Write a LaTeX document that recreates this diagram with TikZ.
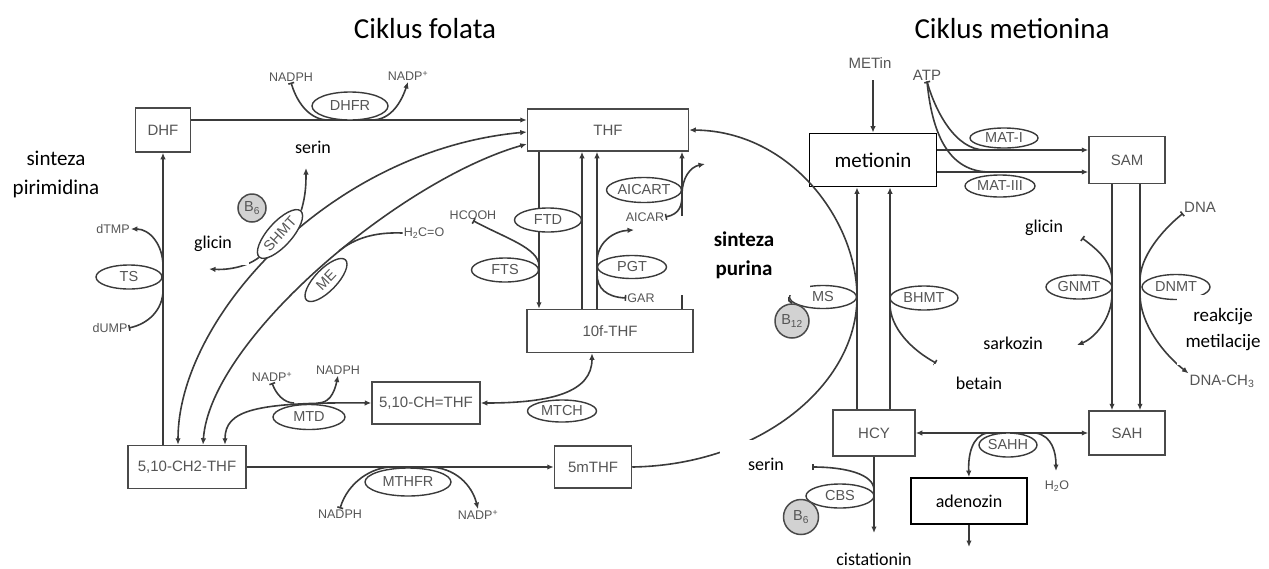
\documentclass[tikz,border=0pt]{standalone}
\usepackage{fontspec}
\setmainfont{Carlito}
\newfontfamily\arialfont{Liberation Sans}
\usepackage{xcolor}
\usepackage{tikz}
\usetikzlibrary{arrows.meta}
\usetikzlibrary{shapes.geometric}
\definecolor{linecol}{HTML}{3A3A3A}
\definecolor{boxcol}{HTML}{4A4A4A}
\definecolor{txtcol}{HTML}{555555}
\definecolor{vitfill}{HTML}{D2D2D2}
\newcommand{\titlefont}{\fontsize{29}{34}\selectfont}
\newcommand{\bigfont}{\fontsize{21}{29}\selectfont}
\newcommand{\bigbf}{\fontsize{21}{29}\selectfont\bfseries}
\newcommand{\lblfont}{\fontsize{18}{21}\selectfont}
\newcommand{\metilfont}{\fontsize{19}{26}\selectfont}
\newcommand{\boxfont}{\arialfont\fontsize{15}{17}\selectfont}
\newcommand{\enzfont}{\arialfont\fontsize{14.5}{16}\selectfont}
\newcommand{\molfont}{\arialfont\fontsize{12.5}{14}\selectfont}
\newcommand{\bigmolfont}{\arialfont\fontsize{15}{17}\selectfont}
\tikzset{>={Latex[length = 6.5pt, width = 5.5pt]}}
\tikzstyle{flow} = [draw = linecol, line width = 1.6pt]
\tikzstyle{sub} = [flow, {Bar[width = 6pt]}-]
\tikzstyle{subprod} = [flow, {Bar[width = 6pt]}->]
\tikzstyle{box} = [rectangle, draw = boxcol, line width = 1.5pt, fill = white, inner sep = 0, font = \boxfont, text = txtcol]
\tikzstyle{bigbox} = [rectangle, draw = black, line width = 1.8pt, fill = white, inner sep = 0, font = \bigfont]
\tikzstyle{enz} = [ellipse, draw = linecol, line width = 1.4pt, fill = white, inner sep = 0, font = \enzfont, text = txtcol]
\tikzstyle{vit} = [circle, draw = boxcol, line width = 1.5pt, fill = vitfill, inner sep = 0, font = \enzfont, text = txtcol]
\tikzstyle{mol} = [inner sep = 1pt, font = \molfont, text = txtcol]
\tikzstyle{lbl} = [inner sep = 0, font = \lblfont]
\tikzstyle{patch} = [fill = white, inner sep = 0, font = \lblfont]

\begin{document}
\begin{tikzpicture}[x = 1pt, y = -1pt]
\useasboundingbox (0, 0) rectangle (1269, 568);
% boxes
\node [box, minimum width = 55pt, minimum height = 44pt] (dhf) at (163, 130) {DHF};
\node [box, minimum width = 161pt, minimum height = 42pt] (thf) at (608, 130) {THF};
\node [box, minimum width = 166pt, minimum height = 43pt] (fthf) at (610, 331) {10f-THF};
\node [box, minimum width = 108pt, minimum height = 42pt] (chthf) at (426, 403) {5,10-CH=THF};
\node [box, minimum width = 118pt, minimum height = 43pt] (chtwo) at (187, 467) {5,10-CH2-THF};
\node [box, minimum width = 77pt, minimum height = 42pt] (mthf) at (593, 467) {5mTHF};
\node [bigbox, minimum width = 127pt, minimum height = 53pt] (met) at (873, 160) {metionin};
\node [box, minimum width = 76pt, minimum height = 47pt] (sam) at (1127, 160) {SAM};
\node [box, minimum width = 82pt, minimum height = 46pt] (hcy) at (874, 433) {HCY};
\node [box, minimum width = 76pt, minimum height = 44pt] (sah) at (1127, 433) {SAH};
\node [bigbox, font = \lblfont, minimum width = 116pt, minimum height = 46pt] (ado) at (969, 501) {adenozin};

% small molecules
\node [mol] (nadpha) at (291, 77) {NADPH};
\node [mol] (nadpa) at (408, 76) {NADP\textsuperscript{+}};
\node [mol] (dtmp) at (113, 229) {dTMP};
\node [mol] (dump) at (110, 328) {dUMP};
\node [mol] (hco) at (424, 233) {H\textsubscript{2}C=O};
\node [mol] (hcooh) at (473, 215) {HCOOH};
\node [mol] (aicar) at (645, 217) {AICAR};
\node [mol] (gar) at (641, 298) {GAR};
\node [mol] (nadpb) at (272, 377) {NADP\textsuperscript{+}};
\node [mol] (nadphb) at (338, 370) {NADPH};
\node [mol] (nadphc) at (340, 514) {NADPH};
\node [mol] (nadpc) at (478, 515) {NADP\textsuperscript{+}};
\node [mol, font = \bigmolfont] (metin) at (870, 63) {METin};
\node [mol, font = \bigmolfont] (atp) at (927, 75) {ATP};
\node [mol, font = \bigmolfont] (dna) at (1200, 207) {DNA};
\node [mol, font = \bigmolfont] (dnach) at (1222, 381) {DNA-CH\textsubscript{3}};
\node [mol] (water) at (1057, 486) {H\textsubscript{2}O};

% points on the lines
\coordinate (dhfrin) at (328, 120);
\coordinate (dhfrout) at (372, 120);
\coordinate (tsout) at (163, 266);
\coordinate (tsin) at (163, 290);
\coordinate (meout) at (339, 251);
\coordinate (ftsin) at (539, 266);
\coordinate (aicartm) at (682, 195);
\coordinate (purout) at (705, 164);
\coordinate (pgtin) at (597, 274);
\coordinate (pgtout) at (597, 262);
\coordinate (fgarend) at (634, 230);
\coordinate (mtdin) at (294, 403);
\coordinate (mtdout) at (318, 403);
\coordinate (mthfrin) at (392, 467);
\coordinate (mthfrout) at (428, 467);
\coordinate (msr) at (857, 297);
\coordinate (metintop) at (873, 80);
\coordinate (matain) at (985, 150);
\coordinate (matbin) at (990, 172);
\coordinate (bhmtin) at (890, 304);
\coordinate (betend) at (936, 363);
\coordinate (glyend) at (1082, 238);
\coordinate (gnmtin) at (1112, 280);
\coordinate (gnmtout) at (1112, 294);
\coordinate (sarend) at (1077, 345);
\coordinate (dnmtin) at (1140, 280);
\coordinate (dnmtout) at (1140, 294);
\coordinate (sahhado) at (987, 433);
\coordinate (sahhw) at (1036, 433);
\coordinate (waterend) at (1056, 471);
\coordinate (adoend) at (969, 547);
\coordinate (cysend) at (874, 533);
\coordinate (serend) at (812, 467);
\coordinate (cbsin) at (874, 490);
\coordinate (serinend) at (306, 168);
\coordinate (glicinend) at (209, 269);

% folate cycle
\draw [flow, ->] (dhf.east |- 0,120) -- (thf.west |- 0,120);
\draw [sub] (nadpha.south) .. controls (298, 106) and (312, 120) .. (dhfrin);
\draw [flow, ->] (dhfrout) .. controls (392, 120) and (402, 100) .. (nadpa.south);
\draw [flow, ->] (dhf.south |- chtwo.north) -- (dhf.south);
\draw [flow, ->] (tsout) .. controls (163, 245) and (150, 229) .. (dtmp.east);
\draw [sub] (dump.east) .. controls (148, 324) and (163, 310) .. (tsin);
\draw [flow, <->] (178,0 |- chtwo.north) .. controls (178, 318) and (330, 150) .. (thf.west |- 0,132);
\draw [flow, <->] (203,0 |- chtwo.north) .. controls (210, 340) and (400, 180) .. (thf.west |- 0,144);
\draw [flow] (meout) .. controls (355, 238) and (375, 232) .. (hco.west);
\draw [flow, ->] (539,0 |- thf.south) -- (539,0 |- fthf.north);
\foreach \x in {582, 597, 682}
  \draw [flow, ->] (\x,0 |- fthf.north) -- (\x,0 |- thf.south);
\draw [sub] (hcooh.south) .. controls (505, 238) and (539, 248) .. (ftsin);
\draw [subprod] (aicar.east) .. controls (680, 214) and (682, 205) .. (aicartm) .. controls (682, 178) and (690, 167) .. (purout);
\draw [sub] (gar.west) .. controls (606, 297) and (597, 288) .. (pgtin);
\draw [flow, ->] (pgtout) .. controls (597, 242) and (614, 231) .. (fgarend);
\draw [flow, <->] (225,0 |- chtwo.north) .. controls (225, 410) and (255, 402) .. (chthf.west);
\draw [sub] (nadpb.south) .. controls (276, 394) and (284, 403) .. (mtdin);
\draw [flow, ->] (mtdout) .. controls (328, 403) and (334, 395) .. (nadphb.south);
\draw [flow, <->] (chthf.east) .. controls (552, 403) and (592, 392) .. (592,0 |- fthf.south);
\draw [flow, ->] (chtwo.east) -- (mthf.west);
\draw [sub] (nadphc.north) .. controls (348, 482) and (372, 467) .. (mthfrin);
\draw [flow, ->] (mthfrout) .. controls (455, 467) and (472, 485) .. (nadpc.north);
\draw [flow, ->] (mthf.east) .. controls (760, 465) and (857, 385) .. (msr) .. controls (857, 220) and (790, 131) .. (thf.east);

% methionine cycle
\draw [flow, ->] (metintop) -- (met.north);
\foreach \y in {150, 172}
  \draw [flow, ->] (met.east |- 0,\y) -- (sam.west |- 0,\y);
\draw [sub] (atp.south) .. controls (935, 110) and (955, 150) .. (matain);
\draw [flow] (atp.south) .. controls (933, 145) and (955, 172) .. (matbin);
\foreach \x in {1112, 1140}
  \draw [flow, ->] (\x,0 |- sam.south) -- (\x,0 |- sah.north);
\draw [sub] (glyend) .. controls (1098, 250) and (1112, 262) .. (gnmtin);
\draw [flow, ->] (gnmtout) .. controls (1112, 318) and (1095, 338) .. (sarend);
\draw [sub] (dna.south west) .. controls (1160, 232) and (1140, 258) .. (dnmtin);
\draw [flow, ->] (dnmtout) .. controls (1140, 325) and (1165, 355) .. (dnach.north west);
\foreach \x in {857, 890}
  \draw [flow, ->] (\x,0 |- hcy.north) -- (\x,0 |- met.south);
\draw [sub] (betend) .. controls (912, 350) and (890, 328) .. (bhmtin);
\draw [flow, <->] (hcy.east) -- (sah.west);
\draw [flow, ->] (sahhado) .. controls (972, 436) and (968, 455) .. (ado.north);
\draw [flow, ->] (sahhw) .. controls (1052, 436) and (1056, 452) .. (waterend);
\draw [flow, ->] (ado.south) -- (adoend);
\draw [flow, ->] (hcy.south) -- (cysend);
\draw [sub] (serend) .. controls (845, 467) and (874, 474) .. (cbsin);

% enzymes
\node [enz, minimum width = 76pt, minimum height = 28pt] (dhfr) at (350, 106) {DHFR};
\node [vit, minimum size = 28pt] (bsa) at (252, 208) {B\textsubscript{6}};
\node [enz, minimum width = 62pt, minimum height = 24pt, rotate = 48] (shmt) at (280, 234) {SHMT};
\node [enz, minimum width = 56pt, minimum height = 22pt, rotate = 46] (me) at (326, 280) {ME};
\node [enz, minimum width = 66pt, minimum height = 24pt] (ts) at (129, 277) {TS};
\node [enz, minimum width = 67pt, minimum height = 24pt] (ftd) at (548, 220) {FTD};
\node [enz, minimum width = 67pt, minimum height = 24pt] (fts) at (505, 270) {FTS};
\node [enz, minimum width = 75pt, minimum height = 25pt] (aicart) at (644, 190) {AICART};
\node [enz, minimum width = 69pt, minimum height = 23pt] (pgt) at (632, 267) {PGT};
\node [enz, minimum width = 69pt, minimum height = 22pt] (mtch) at (562, 411) {MTCH};
\node [enz, minimum width = 72pt, minimum height = 25pt] (mtd) at (309, 417) {MTD};
\node [enz, minimum width = 86pt, minimum height = 28pt] (mthfr) at (408, 482) {MTHFR};
\node [enz, minimum width = 68pt, minimum height = 20pt] (mata) at (1004, 138) {MAT-I};
\node [enz, minimum width = 70pt, minimum height = 22pt] (matb) at (1000, 186) {MAT-III};
\node [enz, minimum width = 67pt, minimum height = 23pt] (ms) at (823, 297) {MS};
\node [vit, minimum size = 34pt] (btw) at (792, 321) {B\textsubscript{12}};
\node [enz, minimum width = 68pt, minimum height = 24pt] (bhmt) at (924, 298) {BHMT};
\node [enz, minimum width = 66pt, minimum height = 24pt] (gnmt) at (1079, 287) {GNMT};
\node [enz, minimum width = 68pt, minimum height = 25pt] (dnmt) at (1176, 287) {DNMT};
\node [enz, minimum width = 58pt, minimum height = 24pt] (sahh) at (1008, 445) {SAHH};
\node [enz, minimum width = 68pt, minimum height = 24pt] (cbs) at (840, 496) {CBS};
\node [vit, minimum size = 35pt] (bsb) at (801, 517) {B\textsubscript{6}};
\draw [flow, ->] (shmt.east) .. controls (306, 195) and (306, 182) .. (serinend);
\draw [flow, ->] (shmt.west) .. controls (245, 268) and (225, 270) .. (glicinend);
\draw [flow] (ms.west) to [bend right = 50] (btw.north);

% labels
\node [patch, minimum width = 72pt, minimum height = 42pt] (glya) at (213, 244) {glicin};
\node [patch, font = \bigbf, align = center, minimum width = 132pt, minimum height = 79pt] (pur) at (744, 255) {sinteza\\purina};
\node [patch, minimum width = 92pt, minimum height = 48pt] (serb) at (766, 464) {serin};
\node [patch, minimum width = 90pt, minimum height = 38pt] (bet) at (979, 383) {betain};
\node [patch, minimum width = 100pt, minimum height = 36pt] (sar) at (1013, 343) {sarkozin};
\node [patch, minimum width = 68pt, minimum height = 30pt] (glyb) at (1044, 228) {glicin};
\node [patch, font = \metilfont, align = center, minimum width = 92pt, minimum height = 70pt] (metil) at (1223, 330) {reakcije\\metilacije};
\node [lbl] (sera) at (313, 147) {serin};
\node [lbl, font = \bigfont, align = center] (pir) at (56, 174) {sinteza\\pirimidina};
\node [lbl] (cist) at (874, 559) {cistationin};
\node [lbl, font = \titlefont] (titlea) at (425, 29) {Ciklus folata};
\node [lbl, font = \titlefont] (titleb) at (1012, 29) {Ciklus metionina};
\end{tikzpicture}
\end{document}
